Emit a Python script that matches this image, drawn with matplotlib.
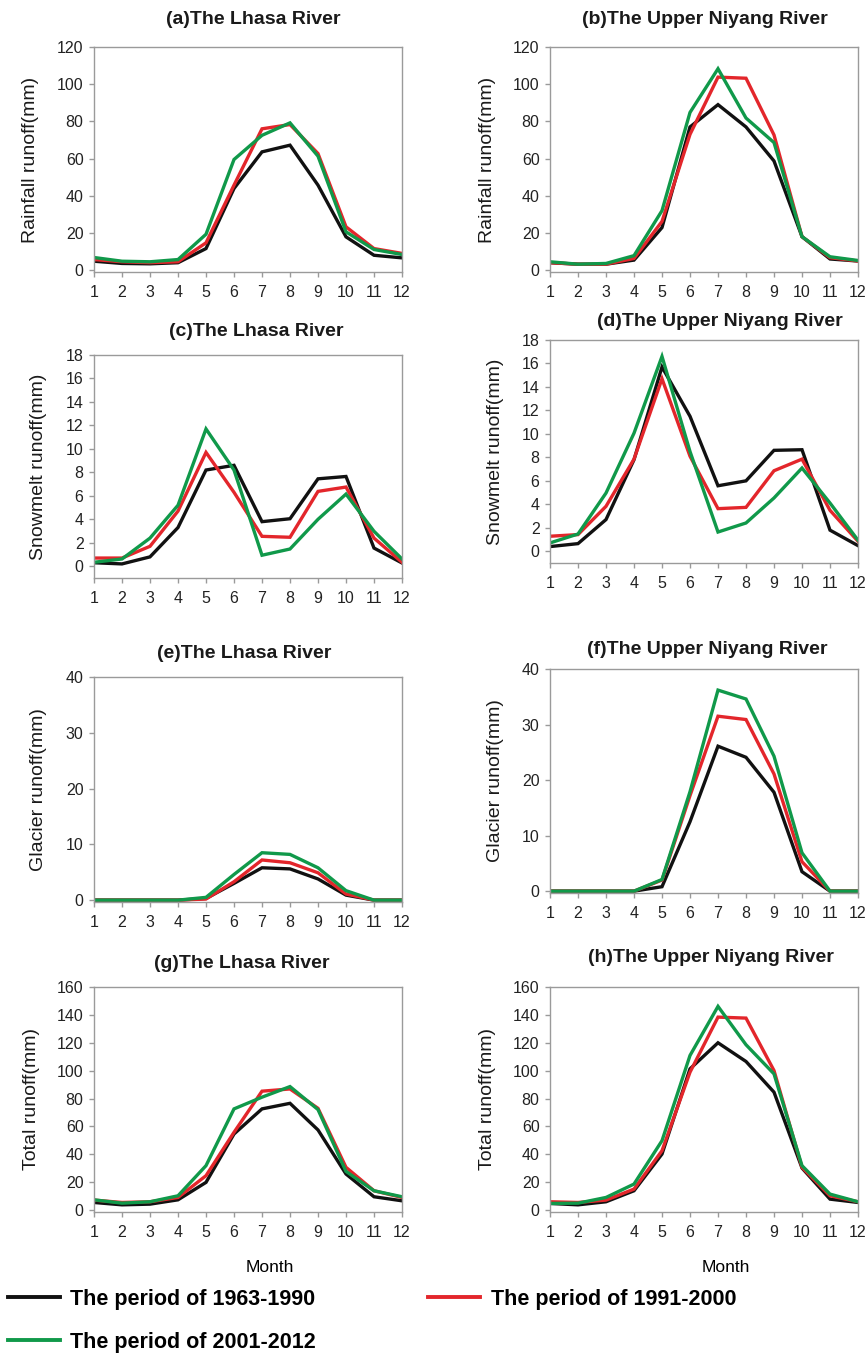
import matplotlib.pyplot as plt

plt.rcParams['font.family'] = ['Liberation Sans', 'DejaVu Sans']

months = list(range(1, 13))

# rainfall runoff (mm)
rain_lhasa_p1 = [4.8, 3.6, 3.4, 4.0, 11.6, 43.9, 63.6, 67.2, 45.7, 17.9, 8.0, 6.6]
rain_lhasa_p2 = [5.7, 4.5, 4.0, 4.5, 14.7, 45.7, 76.0, 78.3, 62.7, 23.3, 11.6, 9.0]
rain_lhasa_p3 = [6.8, 4.8, 4.5, 5.7, 19.3, 59.5, 72.5, 79.2, 61.3, 20.6, 11.1, 8.4]
rain_niyang_p1 = [4.0, 3.2, 3.2, 5.4, 22.9, 77.0, 89.0, 77.0, 58.7, 18.0, 6.0, 4.9]
rain_niyang_p2 = [4.0, 3.2, 3.2, 6.3, 26.2, 73.0, 103.8, 103.2, 72.7, 18.0, 6.7, 4.9]
rain_niyang_p3 = [4.5, 3.2, 3.6, 7.8, 32.0, 84.8, 108.3, 81.8, 68.6, 18.0, 7.2, 5.2]

# snowmelt runoff (mm)
snow_lhasa_p1 = [0.3, 0.2, 0.8, 3.3, 8.2, 8.6, 3.8, 4.05, 7.45, 7.65, 1.55, 0.28]
snow_lhasa_p2 = [0.7, 0.7, 1.7, 4.7, 9.7, 6.3, 2.55, 2.47, 6.38, 6.75, 2.4, 0.34]
snow_lhasa_p3 = [0.34, 0.62, 2.4, 5.2, 11.7, 8.2, 0.94, 1.47, 4.0, 6.15, 2.98, 0.62]
snow_niyang_p1 = [0.4, 0.65, 2.7, 7.8, 15.7, 11.5, 5.58, 6.0, 8.6, 8.65, 1.8, 0.48]
snow_niyang_p2 = [1.28, 1.42, 3.83, 7.85, 14.7, 8.1, 3.63, 3.74, 6.86, 7.85, 3.49, 0.85]
snow_niyang_p3 = [0.71, 1.47, 4.96, 10.06, 16.6, 8.5, 1.64, 2.41, 4.54, 7.09, 4.11, 0.94]

# glacier runoff (mm)
glac_lhasa_p1 = [0, 0, 0, 0, 0.3, 3.0, 5.8, 5.6, 3.8, 0.9, 0, 0]
glac_lhasa_p2 = [0, 0, 0, 0, 0.2, 3.3, 7.2, 6.7, 4.9, 1.1, 0, 0]
glac_lhasa_p3 = [0, 0, 0, 0, 0.5, 4.6, 8.5, 8.2, 5.8, 1.7, 0, 0]
glac_niyang_p1 = [0, 0, 0, 0, 0.8, 12.5, 26.1, 24.1, 17.8, 3.5, 0, 0]
glac_niyang_p2 = [0, 0, 0, 0, 2.0, 17.2, 31.5, 30.9, 21.1, 5.3, 0, 0]
glac_niyang_p3 = [0, 0, 0, 0, 2.1, 17.9, 36.2, 34.6, 24.3, 6.9, 0, 0]

# total runoff (mm)
total_lhasa_p1 = [5.5, 3.8, 4.3, 7.4, 19.9, 54.6, 72.6, 76.6, 57.5, 25.9, 9.6, 6.7]
total_lhasa_p2 = [7.2, 5.5, 6.0, 9.1, 24.7, 55.8, 85.3, 86.9, 73.0, 30.7, 13.9, 9.1]
total_lhasa_p3 = [7.4, 5.0, 6.0, 10.3, 31.9, 72.6, 81.0, 88.6, 72.1, 27.8, 13.9, 9.6]
total_niyang_p1 = [4.8, 3.8, 6.0, 13.9, 40.2, 101.3, 120.0, 106.6, 84.6, 30.2, 7.9, 5.5]
total_niyang_p2 = [6.0, 5.5, 7.2, 15.1, 42.6, 98.9, 138.4, 137.7, 100.1, 30.7, 10.3, 6.0]
total_niyang_p3 = [4.8, 5.0, 9.1, 18.7, 49.8, 110.9, 146.1, 118.6, 97.7, 31.9, 11.5, 6.0]

periods = ['The period of 1963-1990', 'The period of 1991-2000', 'The period of 2001-2012']
colors = ['#111111', '#e3262b', '#10994a']

W, H = 867, 1358
fig = plt.figure(figsize=(W / 100, H / 100), dpi=100)


def box(left, top, right, bottom):
    return [left / W, 1 - bottom / H, (right - left) / W, (bottom - top) / H]


# title, ylabel, series, ymax, ystep, axes box (px), title xy (px), ylabel x (px)
panels = [
    ('(a)The Lhasa River', 'Rainfall runoff(mm)',
     (rain_lhasa_p1, rain_lhasa_p2, rain_lhasa_p3), 120, 20,
     (94, 47, 402, 272), (253, 20), 31),
    ('(b)The Upper Niyang River', 'Rainfall runoff(mm)',
     (rain_niyang_p1, rain_niyang_p2, rain_niyang_p3), 120, 20,
     (550, 47, 858, 272), (705, 20), 487),
    ('(c)The Lhasa River', 'Snowmelt runoff(mm)',
     (snow_lhasa_p1, snow_lhasa_p2, snow_lhasa_p3), 18, 2,
     (94, 355, 402, 578), (256, 331), 39),
    ('(d)The Upper Niyang River', 'Snowmelt runoff(mm)',
     (snow_niyang_p1, snow_niyang_p2, snow_niyang_p3), 18, 2,
     (550, 340, 858, 563), (720, 321), 496),
    ('(e)The Lhasa River', 'Glacier runoff(mm)',
     (glac_lhasa_p1, glac_lhasa_p2, glac_lhasa_p3), 40, 10,
     (94, 677, 402, 902), (244, 653), 39),
    ('(f)The Upper Niyang River', 'Glacier runoff(mm)',
     (glac_niyang_p1, glac_niyang_p2, glac_niyang_p3), 40, 10,
     (550, 669, 858, 893), (707, 649), 496),
    ('(g)The Lhasa River', 'Total runoff(mm)',
     (total_lhasa_p1, total_lhasa_p2, total_lhasa_p3), 160, 20,
     (94, 987, 402, 1212), (242, 963), 31),
    ('(h)The Upper Niyang River', 'Total runoff(mm)',
     (total_niyang_p1, total_niyang_p2, total_niyang_p3), 160, 20,
     (550, 987, 858, 1212), (711, 958), 487),
]

handles = []
for title, ylabel, series, ymax, ystep, pos, tpos, ylx in panels:
    ax = fig.add_axes(box(*pos))
    lines = []
    for vals, c in zip(series, colors):
        ln, = ax.plot(months, vals, color=c, lw=2.4, solid_joinstyle='miter')
        lines.append(ln)
    if not handles:
        handles = lines

    ax.set_xlim(1, 12)
    ax.set_xticks(months)
    ax.set_ylim(-ymax / 120 if ymax > 20 else -1, ymax)
    ax.set_yticks(range(0, ymax + 1, ystep))
    for s in ax.spines.values():
        s.set_color('#9a9a9a')
        s.set_linewidth(1.0)
    ax.tick_params(direction='out', length=3.5, width=1.0, color='#9a9a9a',
                   labelsize=11.5, labelcolor='#222222', pad=4)
    ax.tick_params(axis='x', pad=6)

    fig.text(tpos[0] / W, 1 - tpos[1] / H, title, ha='center', va='center',
             fontsize=14, fontweight='bold', color='#1a1a1a')
    fig.text(ylx / W, 1 - (pos[1] + pos[3]) / 2 / H, ylabel, rotation=90,
             ha='center', va='center', fontsize=14, color='#1a1a1a')

# month labels under the bottom row
fig.text(270 / W, 1 - 1267 / H, 'Month', ha='center', va='center', fontsize=12.5)
fig.text(726 / W, 1 - 1267 / H, 'Month', ha='center', va='center', fontsize=12.5)

# legend: two columns, 2001-2012 goes under 1963-1990
leg = fig.legend([handles[0], handles[2], handles[1]],
                 [periods[0], periods[2], periods[1]],
                 loc='upper left', bbox_to_anchor=(8 / W, 1 - 1289 / H),
                 ncol=2, frameon=False, borderpad=0, borderaxespad=0,
                 handlelength=2.4, handletextpad=0.5, columnspacing=5.2,
                 labelspacing=1.0, prop={'weight': 'bold', 'size': 15.5})
for ln in leg.get_lines():
    ln.set_linewidth(2.8)

fig.savefig('out.png', dpi=100, facecolor='white')
